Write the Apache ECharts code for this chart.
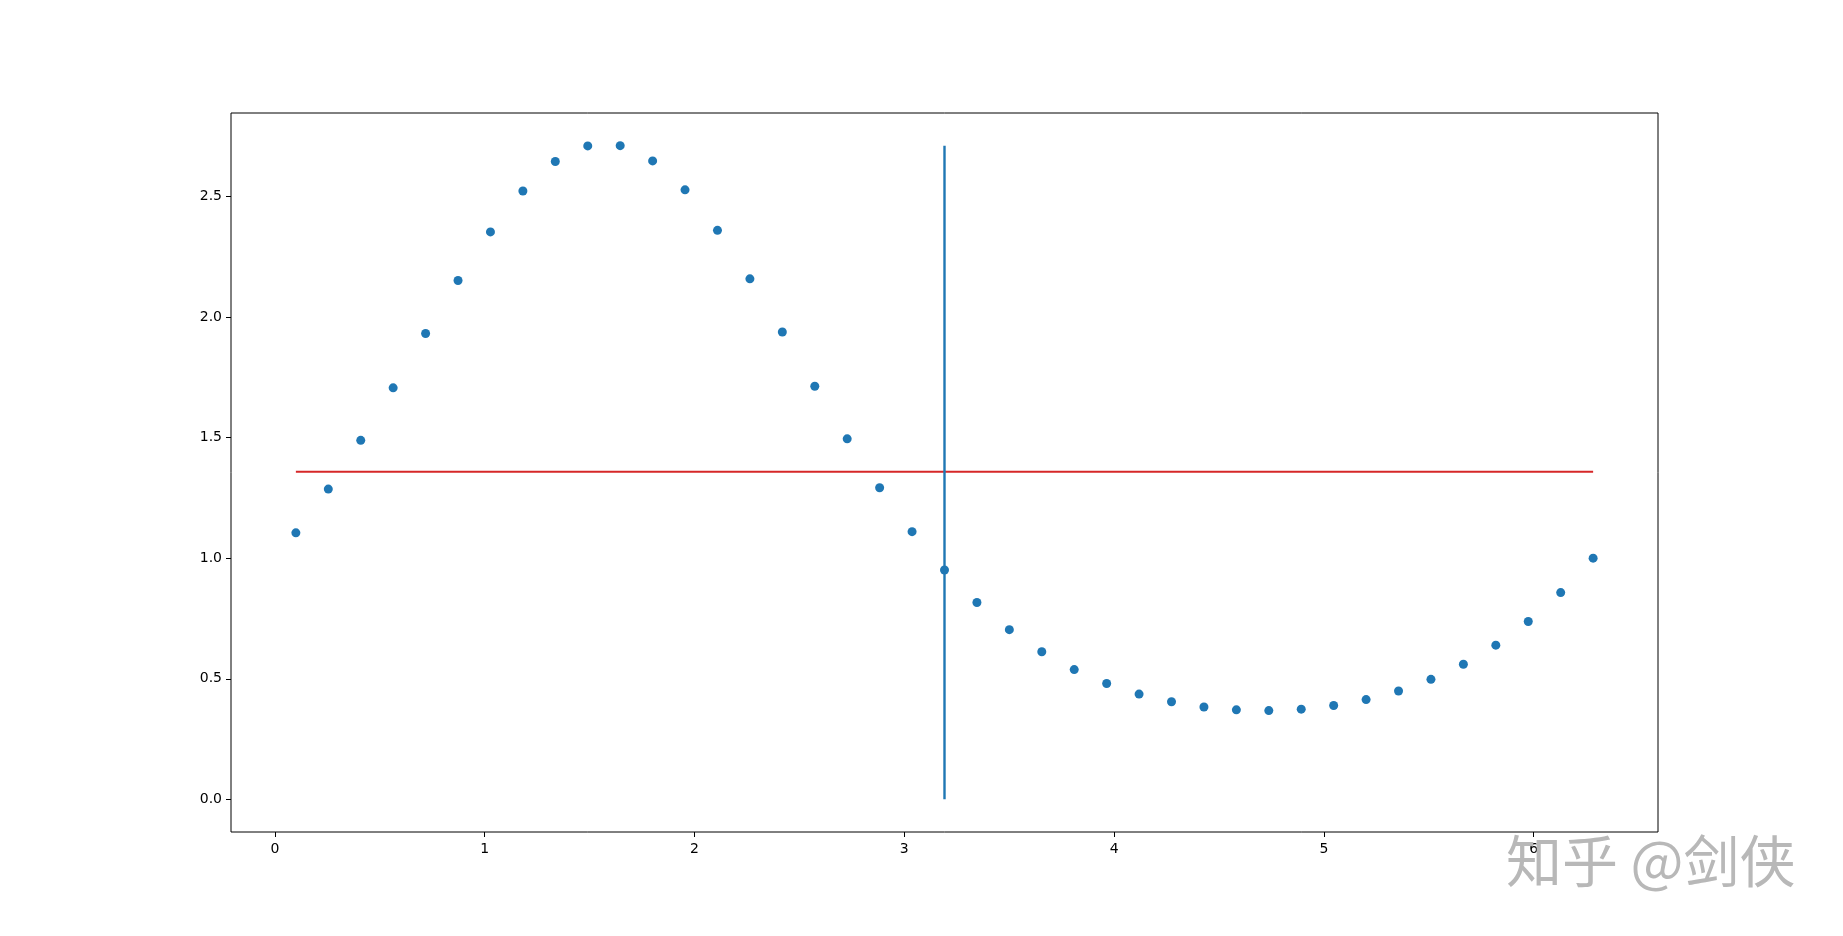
<!DOCTYPE html>
<html>
<head>
<meta charset="utf-8">
<script src="https://cdn.jsdelivr.net/npm/echarts@6/dist/echarts.min.js"></script>
<style>html,body{margin:0;padding:0;background:#fff;}#c{width:1843px;height:936px;}</style>
</head>
<body>
<div id="c"></div>
<script>
const xValues = [0.1000,0.2546,0.4092,0.5637,0.7183,0.8729,1.0275,1.1821,1.3366,1.4912,1.6458,1.8004,1.9549,2.1095,2.2641,2.4187,2.5733,2.7278,2.8824,3.0370,3.1916,3.3462,3.5007,3.6553,3.8099,3.9645,4.1190,4.2736,4.4282,4.5828,4.7374,4.8919,5.0465,5.2011,5.3557,5.5102,5.6648,5.8194,5.9740,6.1286,6.2832];
const yValues = [1.1050,1.2865,1.4887,1.7065,1.9318,2.1516,2.3531,2.5229,2.6451,2.7096,2.7107,2.6475,2.5276,2.3596,2.1584,1.9380,1.7131,1.4950,1.2921,1.1100,0.9512,0.8161,0.7037,0.6118,0.5381,0.4804,0.4365,0.4045,0.3829,0.3711,0.3680,0.3738,0.3889,0.4135,0.4492,0.4975,0.5601,0.6393,0.7376,0.8573,1.0000];
const hlineY = 1.358;
const hlineX = [0.1, 6.2832];
const vlineX = 3.1916;
const vlineY = [0, 2.7107];
const xTicks = [0,1,2,3,4,5,6];
const yTicks = [0,0.5,1.0,1.5,2.0,2.5];
const watermark = '知乎 @剑侠';

const chart = echarts.init(document.getElementById('c'), null, {renderer:'canvas'});
const font = 'DejaVu Sans';
chart.setOption({
  animation:false,
  backgroundColor:'#fff',
  grid:{left:231, right:185, top:113, bottom:104, show:true, borderColor:'#000', borderWidth:1, backgroundColor:'transparent'},
  xAxis:{type:'value', min:-0.2092, max:6.5924, splitLine:{show:false},
    axisLine:{show:false, onZero:false},
    axisTick:{show:true, length:5, lineStyle:{color:'#000'}, customValues:xTicks},
    axisLabel:{color:'#000', fontFamily:font, fontSize:14, margin:10, customValues:xTicks, formatter:v=>String(v)}},
  yAxis:{type:'value', min:-0.1355, max:2.8462, splitLine:{show:false},
    axisLine:{show:false, onZero:false},
    axisTick:{show:true, length:5, lineStyle:{color:'#000'}, customValues:yTicks},
    axisLabel:{color:'#000', fontFamily:font, fontSize:14, margin:9, customValues:yTicks, formatter:v=>v.toFixed(1)}},
  series:[
    {type:'scatter', data:xValues.map((x,i)=>[x,yValues[i]]), symbolSize:9, itemStyle:{color:'#1f77b4', opacity:1}, z:2},
    {type:'line', data:[[hlineX[0],hlineY],[hlineX[1],hlineY]], symbol:'none', lineStyle:{color:'#d62728', width:2}, z:3},
    {type:'line', data:[[vlineX,vlineY[0]],[vlineX,vlineY[1]]], symbol:'none', lineStyle:{color:'#1f77b4', width:2.4}, z:4}
  ],
  graphic:[{type:'text', left:1506, top:833, z:100, style:{text:watermark, fontFamily:'Noto Sans CJK SC', fontSize:56, fill:'#b8b8b8'}}]
});
</script>
</body>
</html>
